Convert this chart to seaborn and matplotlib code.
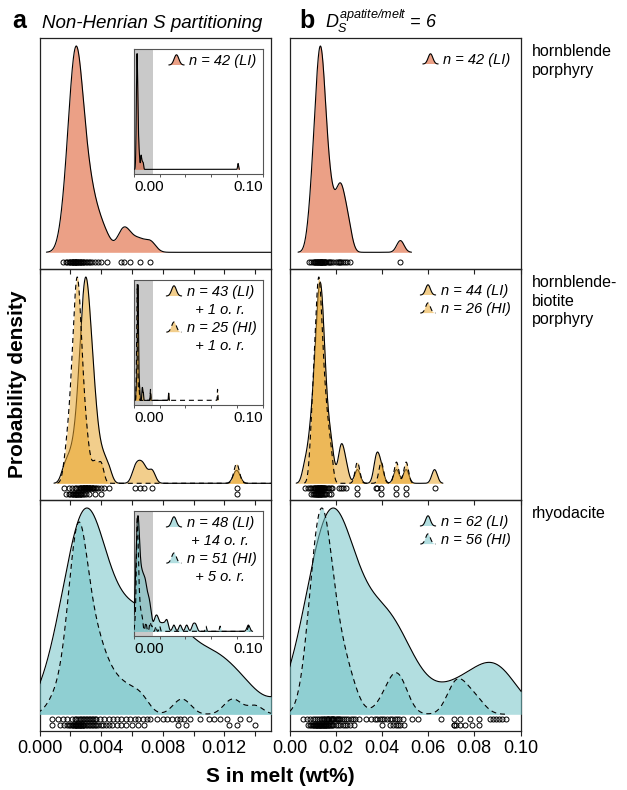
import numpy as np
import matplotlib
matplotlib.use("Agg")
import matplotlib.pyplot as plt
import seaborn as sns
from matplotlib.legend_handler import HandlerBase
from matplotlib.lines import Line2D
from matplotlib.patches import Polygon
from matplotlib.transforms import blended_transform_factory

sns.set_style("ticks")
plt.rcParams["font.family"] = ["Liberation Sans", "DejaVu Sans"]
plt.rcParams["mathtext.fontset"] = "custom"
plt.rcParams["mathtext.it"] = "Liberation Sans:italic"
plt.rcParams["mathtext.rm"] = "Liberation Sans:italic"
plt.rcParams["mathtext.sf"] = "Liberation Sans"
for key in ("text.color", "axes.labelcolor", "xtick.color", "ytick.color", "xtick.labelcolor"):
    plt.rcParams[key] = "black"

# ---------------- data: S in melt (wt%) ----------------
# non-Henrian partitioning (column a) and D = 6 (column b)
hbl_nh_li = [0.0015, 0.0017, 0.0018, 0.0019, 0.0020, 0.0020, 0.0021, 0.0021, 0.0022, 0.0022,
             0.0022, 0.0023, 0.0023, 0.0023, 0.0024, 0.0024, 0.0024, 0.0025, 0.0025, 0.0025,
             0.0026, 0.0026, 0.0027, 0.0027, 0.0028, 0.0028, 0.0029, 0.0030, 0.0031, 0.0032,
             0.0033, 0.0034, 0.0036, 0.0038, 0.0040, 0.0044, 0.0053, 0.0055, 0.0059, 0.0065,
             0.0072, 0.0810]
hbl_d6_li = [0.0085, 0.0095, 0.0100, 0.0105, 0.0110, 0.0112, 0.0115, 0.0118, 0.0120, 0.0122,
             0.0125, 0.0127, 0.0130, 0.0130, 0.0132, 0.0135, 0.0135, 0.0138, 0.0140, 0.0140,
             0.0142, 0.0145, 0.0148, 0.0150, 0.0152, 0.0155, 0.0160, 0.0165, 0.0170, 0.0175,
             0.0180, 0.0190, 0.0200, 0.0210, 0.0215, 0.0220, 0.0225, 0.0230, 0.0240, 0.0250,
             0.0260, 0.0480]

hblbt_nh_li = [0.0016, 0.0019, 0.0021, 0.0023, 0.0024, 0.0025, 0.0026, 0.0026, 0.0027, 0.0027,
               0.0028, 0.0028, 0.0028, 0.0029, 0.0029, 0.0029, 0.0030, 0.0030, 0.0030, 0.0030,
               0.0031, 0.0031, 0.0031, 0.0032, 0.0032, 0.0032, 0.0033, 0.0033, 0.0034, 0.0034,
               0.0035, 0.0035, 0.0036, 0.0037, 0.0038, 0.0040, 0.0042, 0.0045, 0.0062, 0.0065,
               0.0068, 0.0073, 0.0128, 0.0270]
hblbt_nh_hi = [0.0017, 0.0019, 0.0020, 0.0021, 0.0022, 0.0022, 0.0023, 0.0023, 0.0024, 0.0024,
               0.0024, 0.0025, 0.0025, 0.0025, 0.0026, 0.0026, 0.0027, 0.0027, 0.0028, 0.0029,
               0.0030, 0.0032, 0.0036, 0.0040, 0.0128, 0.0650]
hblbt_d6_li = [0.0065, 0.0080, 0.0090, 0.0095, 0.0100, 0.0105, 0.0110, 0.0112, 0.0115, 0.0118,
               0.0120, 0.0122, 0.0125, 0.0125, 0.0127, 0.0130, 0.0132, 0.0134, 0.0135, 0.0136,
               0.0138, 0.0140, 0.0142, 0.0145, 0.0145, 0.0148, 0.0150, 0.0155, 0.0160, 0.0165,
               0.0170, 0.0180, 0.0186, 0.0216, 0.0225, 0.0230, 0.0246, 0.0294, 0.0375, 0.0380,
               0.0397, 0.0463, 0.0505, 0.0628]
hblbt_d6_hi = [0.0094, 0.0100, 0.0105, 0.0110, 0.0113, 0.0116, 0.0120, 0.0122, 0.0125, 0.0125,
               0.0128, 0.0130, 0.0132, 0.0135, 0.0138, 0.0140, 0.0145, 0.0150, 0.0155, 0.0160,
               0.0170, 0.0180, 0.0294, 0.0397, 0.0463, 0.0505]

rhy_nh_li = [0.0008, 0.0012, 0.0015, 0.0018, 0.0021, 0.0023, 0.0024, 0.0025, 0.0026, 0.0027,
             0.0028, 0.0029, 0.0030, 0.0031, 0.0032, 0.0033, 0.0034, 0.0035, 0.0036, 0.0037,
             0.0039, 0.0042, 0.0045, 0.0048, 0.0050, 0.0053, 0.0056, 0.0059, 0.0062, 0.0064,
             0.0067, 0.0070, 0.0072, 0.0076, 0.0080, 0.0083, 0.0086, 0.0089, 0.0091, 0.0094,
             0.0098, 0.0104, 0.0110, 0.0113, 0.0117, 0.0122, 0.0130, 0.0136,
             0.016, 0.017, 0.018, 0.019, 0.021, 0.023, 0.025, 0.026, 0.031, 0.036, 0.041,
             0.046, 0.048, 0.089]
rhy_nh_hi = [0.0008, 0.0013, 0.0016, 0.0018, 0.0019, 0.0020, 0.0021, 0.0022, 0.0022, 0.0023,
             0.0023, 0.0024, 0.0024, 0.0024, 0.0025, 0.0025, 0.0025, 0.0026, 0.0026, 0.0026,
             0.0027, 0.0027, 0.0028, 0.0028, 0.0028, 0.0029, 0.0030, 0.0031, 0.0032, 0.0033,
             0.0034, 0.0035, 0.0036, 0.0037, 0.0038, 0.0040, 0.0041, 0.0043, 0.0045, 0.0047,
             0.0050, 0.0053, 0.0056, 0.0060, 0.0064, 0.0068, 0.0090, 0.0095, 0.0123, 0.0128,
             0.0140, 0.017, 0.020, 0.056, 0.067, 0.089]
rhy_d6_li = [0.0058, 0.0075, 0.0090, 0.0100, 0.0110, 0.0120, 0.0128, 0.0135, 0.0142, 0.0150,
             0.0150, 0.0156, 0.0162, 0.0165, 0.0168, 0.0173, 0.0178, 0.0180, 0.0183, 0.0188,
             0.0190, 0.0194, 0.0200, 0.0206, 0.0210, 0.0213, 0.0220, 0.0228, 0.0236, 0.0245,
             0.0255, 0.0265, 0.0275, 0.0285, 0.0300, 0.0330, 0.0353, 0.0370, 0.0380, 0.0390,
             0.0400, 0.0410, 0.0420, 0.0435, 0.0445, 0.0455, 0.0465, 0.0475, 0.0490, 0.0530,
             0.0555, 0.0656, 0.0710, 0.0740, 0.0780, 0.0820, 0.0870, 0.0880, 0.0894, 0.0905,
             0.0920, 0.0938]
rhy_d6_hi = [0.0080, 0.0090, 0.0095, 0.0100, 0.0103, 0.0106, 0.0110, 0.0113, 0.0116, 0.0118,
             0.0120, 0.0123, 0.0126, 0.0128, 0.0130, 0.0133, 0.0136, 0.0138, 0.0140, 0.0143,
             0.0146, 0.0148, 0.0150, 0.0153, 0.0156, 0.0158, 0.0160, 0.0165, 0.0168, 0.0170,
             0.0175, 0.0180, 0.0185, 0.0190, 0.0200, 0.0210, 0.0220, 0.0230, 0.0240, 0.0250,
             0.0260, 0.0280, 0.0400, 0.0435, 0.0450, 0.0460, 0.0470, 0.0480, 0.0495, 0.0710,
             0.0710, 0.0720, 0.0740, 0.0760, 0.0790, 0.0820]

rock_types = ["hornblende\nporphyry", "hornblende-\nbiotite\nporphyry", "rhyodacite"]
key_text_a = [
    [("n = 42 (LI)", None)],
    [("n = 43 (LI)", "  + 1 o. r."), ("n = 25 (HI)", "  + 1 o. r.")],
    [("n = 48 (LI)", " + 14 o. r."), ("n = 51 (HI)", "  + 5 o. r.")],
]
key_text_b = [
    [("n = 42 (LI)", None)],
    [("n = 44 (LI)", None), ("n = 26 (HI)", None)],
    [("n = 62 (LI)", None), ("n = 56 (HI)", None)],
]
xticks_a = [0.000, 0.002, 0.004, 0.006, 0.008, 0.010, 0.012, 0.014]
xticks_b = [0.00, 0.02, 0.04, 0.06, 0.08, 0.10]
xticks_inset = [0.00, 0.02, 0.04, 0.06, 0.08, 0.10]

# ---------------- styling ----------------
row_colors = ["#dc5223", "#e9a62e", "#73c3c7"]
FILL_ALPHA = 0.55
bandwidth = {
    "hbl_nh_li": 0.00035, "hbl_d6_li": 0.0016,
    "hblbt_nh_li": 0.00022, "hblbt_nh_hi": 0.00018,
    "hblbt_d6_li": 0.0012, "hblbt_d6_hi": 0.0010,
    "rhy_nh_li": 0.0011, "rhy_nh_hi": 0.0005,
    "rhy_d6_li": 0.0088, "rhy_d6_hi": 0.0038,
}
# extra gap (px) between a curve's peak and the panel top
peak_gap = {"rhy_nh_hi": 14, "hblbt_d6_li": 5}
XLIM_A = (0.0, 0.015)
XLIM_B = (0.0, 0.10)
XLIM_INSET = (0.0, 0.10)

W, H = 627, 790
fig = plt.figure(figsize=(W / 100, H / 100), dpi=100)
fig.patch.set_facecolor("white")

ROW_TOPS = [38, 269, 500]
ROW_H = 231
COL_X = [(39.5, 270.5), (289.5, 520.5)]
INSET_X = (134, 262.5)
INSET_H = 125


def box(x0, y0, x1, y1):
    return [x0 / W, 1 - y1 / H, (x1 - x0) / W, (y1 - y0) / H]


class Bell:
    def __init__(self, color, ls):
        self.color = color
        self.ls = ls


class BellHandler(HandlerBase):
    def create_artists(self, legend, orig, xdescent, ydescent, width, height, fontsize, trans):
        t = np.linspace(-1, 1, 41)
        xs = -xdescent + (t + 1) / 2 * width
        ys = -ydescent + height * np.exp(-(2.3 * t) ** 2)
        pts = np.column_stack([np.r_[xs, xs[-1], xs[0]], np.r_[ys, -ydescent, -ydescent]])
        poly = Polygon(pts, closed=True, facecolor=matplotlib.colors.to_rgba(orig.color, FILL_ALPHA),
                       edgecolor="none", transform=trans)
        line = Line2D(xs, ys, color="black", lw=0.8, linestyle=orig.ls, transform=trans)
        return [poly, line]


def add_key(ax, entries, colors_ls, anchor):
    handles, labels = [], []
    for (text, extra), (color, ls) in zip(entries, colors_ls):
        handles.append(Bell(color, ls))
        labels.append(text)
        if extra:
            handles.append(Line2D([], [], linestyle="none"))
            labels.append(extra)
    ax.legend(handles, labels, handler_map={Bell: BellHandler()}, loc="upper right",
              bbox_to_anchor=anchor, borderaxespad=0, borderpad=0, frameon=False,
              prop={"style": "italic", "size": 10.5}, handlelength=1.05, handleheight=0.7,
              handletextpad=0.35, labelspacing=0.28)


DASH = (0, (4.5, 3.5))


def hide_twin(tax):
    tax.set_yticks([])
    tax.set_ylabel("")
    tax.set_xlabel("")
    for s in tax.spines.values():
        s.set_visible(False)


def draw_density(ax, x, bw, color, ls, clip, gridsize):
    """Each density gets its own y scale on a twin of ax (shared x)."""
    tax = ax.twinx()
    factor = bw / np.std(x, ddof=1)
    sns.kdeplot(x=x, ax=tax, bw_method=factor, fill=True, color=color, alpha=FILL_ALPHA,
                linewidth=0, clip=clip, gridsize=gridsize)
    sns.kdeplot(x=x, ax=tax, bw_method=factor, fill=False, color="black", linestyle=ls,
                linewidth=0.8, clip=clip, gridsize=gridsize)
    hide_twin(tax)
    return tax


def fit_ylim(ax, xlim, top_px, base_px, h_px):
    m = 0.0
    for ln in ax.lines:
        xd, yd = np.asarray(ln.get_xdata()), np.asarray(ln.get_ydata())
        sel = (xd >= xlim[0]) & (xd <= xlim[1])
        if sel.any():
            m = max(m, yd[sel].max())
    span = m / (1 - (top_px + base_px) / h_px)
    lo = -base_px / h_px * span
    ax.set_ylim(lo, lo + span)


def rug(ax, x, frac):
    tr = blended_transform_factory(ax.transData, ax.transAxes)
    ax.plot(x, np.full(len(x), frac), "o", mfc="none", mec="black", ms=3.6, mew=0.7,
            transform=tr, zorder=4)


def style_frame(ax, color="#222222", lw=0.9):
    for s in ax.spines.values():
        s.set_visible(True)
        s.set_color(color)
        s.set_linewidth(lw)
    ax.set_yticks([])
    ax.set_xlabel("")
    ax.set_ylabel("")


rows_a = [[(hbl_nh_li, "hbl_nh_li", "-")],
          [(hblbt_nh_li, "hblbt_nh_li", "-"), (hblbt_nh_hi, "hblbt_nh_hi", DASH)],
          [(rhy_nh_li, "rhy_nh_li", "-"), (rhy_nh_hi, "rhy_nh_hi", DASH)]]
rows_b = [[(hbl_d6_li, "hbl_d6_li", "-")],
          [(hblbt_d6_li, "hblbt_d6_li", "-"), (hblbt_d6_hi, "hblbt_d6_hi", DASH)],
          [(rhy_d6_li, "rhy_d6_li", "-"), (rhy_d6_hi, "rhy_d6_hi", DASH)]]

BASE_PX, TOP_PX = 16.7, 8.0
for r in range(3):
    top = ROW_TOPS[r]
    color = row_colors[r]
    rug_fracs = [7 / ROW_H] if r == 0 else [12.5 / ROW_H, 6 / ROW_H]
    last = r == 2

    for c, (rows, xlim, ticks) in enumerate([(rows_a, XLIM_A, xticks_a), (rows_b, XLIM_B, xticks_b)]):
        x0, x1 = COL_X[c]
        ax = fig.add_axes(box(x0, top, x1, top + ROW_H))
        ax.patch.set_visible(False)
        clip = (-0.002, 0.017) if c == 0 else (-0.01, 0.11)
        twins = []
        for vals, key, ls in rows[r]:
            tax = draw_density(ax, vals, bandwidth[key], color, ls, clip, 900)
            ax.set_xlim(*xlim)
            fit_ylim(tax, xlim, TOP_PX + peak_gap.get(key, 0), BASE_PX, ROW_H)
            twins.append(tax)
        ax.set_xlim(*xlim)
        ax.set_ylim(0, 1)
        for (vals, key, ls), frac in zip(rows[r], rug_fracs):
            rug(ax, vals, frac)
        style_frame(ax)
        if c == 0:
            labels = [f"{v:.3f}" if round(v / 0.002) % 2 == 0 else "" for v in ticks]
        else:
            labels = [f"{v:.2f}" for v in ticks]
        ax.set_xticks(ticks, labels if last else [""] * len(ticks))
        ax.tick_params(axis="x", direction="out", length=3.8, width=0.8, color="#222222",
                       labelsize=13, pad=2.5, bottom=True, top=False)
        ax.tick_params(axis="y", left=False, right=False)

        if c == 1:
            add_key(twins[-1], key_text_b[r], [(color, ls) for _, _, ls in rows[r]],
                    (1 - 10 / ROW_H, 1 - 15 / ROW_H))
            ax.text(1 + 11 / ROW_H, 1 - 6 / ROW_H, rock_types[r], transform=ax.transAxes,
                    ha="left", va="top", fontsize=11.5, linespacing=1.3)
        else:
            # full-range inset with the main axis range shaded
            ins = fig.add_axes(box(INSET_X[0], top + 11, INSET_X[1], top + 11 + INSET_H))
            ins.set_facecolor("white")
            ins.axvspan(xlim[0], xlim[1], color="#c9c9c9", lw=0, zorder=1)
            itw = []
            pad = 0.04 / 1.08 * INSET_H
            for vals, key, ls in rows[r]:
                tax = draw_density(ins, vals, bandwidth[key], color, ls, (-0.005, 0.105), 4000)
                ins.set_xlim(*XLIM_INSET)
                fit_ylim(tax, XLIM_INSET, pad, pad, INSET_H)
                itw.append(tax)
            ins.set_xlim(*XLIM_INSET)
            ins.set_ylim(0, 1)
            for s in ins.spines.values():
                s.set_color("#555555")
                s.set_linewidth(0.8)
            ins.set_yticks([])
            ins.set_xlabel("")
            ins.set_ylabel("")
            ins.set_xticks(xticks_inset,
                           [f"{v:.2f}" if i in (0, len(xticks_inset) - 1) else ""
                            for i, v in enumerate(xticks_inset)])
            ins.tick_params(axis="x", direction="out", length=2.4, width=0.7, color="#555555",
                            labelsize=11, pad=2)
            ins.tick_params(axis="y", left=False, right=False)
            tl = ins.get_xticklabels()
            tl[0].set_ha("left")
            tl[-1].set_ha("right")
            add_key(itw[-1], key_text_a[r], [(color, ls) for _, _, ls in rows[r]],
                    (1 - 6 / 128.5, 1 - 5 / INSET_H))

# panel titles
fig.text(12 / W, 1 - 28 / H, "a", fontsize=18, fontweight="bold", va="baseline")
fig.text(42 / W, 1 - 28 / H, "Non-Henrian S partitioning", fontsize=13.5, style="italic", va="baseline")
fig.text(299 / W, 1 - 28 / H, "b", fontsize=18, fontweight="bold", va="baseline")
fig.text(325 / W, 1 - 28 / H, r"$D_S^{apatite/melt}$ = 6", fontsize=13, style="italic", va="baseline")

# shared axis labels
fig.text(280 / W, 1 - 776 / H, "S in melt (wt%)", fontsize=15, fontweight="bold",
         ha="center", va="center")
fig.text(18 / W, 1 - 384.5 / H, "Probability density", fontsize=15, fontweight="bold",
         ha="center", va="center", rotation=90)

fig.savefig("out.png", dpi=100, facecolor="white")
